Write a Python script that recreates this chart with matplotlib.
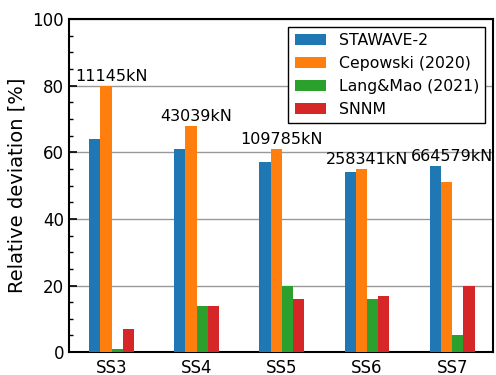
import numpy as np
import matplotlib.pyplot as plt
from matplotlib.ticker import MultipleLocator

cases = ['SS3', 'SS4', 'SS5', 'SS6', 'SS7']
loads = ['11145kN', '43039kN', '109785kN', '258341kN', '664579kN']
stawave = [64, 61, 57, 54, 56]
cepowski = [80, 68, 61, 55, 51]
langmao = [1, 14, 20, 16, 5]
snnm = [7, 14, 16, 17, 20]

series = [
    ('STAWAVE-2', stawave, 'tab:blue'),
    ('Cepowski (2020)', cepowski, 'tab:orange'),
    ('Lang&Mao (2021)', langmao, 'tab:green'),
    ('SNNM', snnm, 'tab:red'),
]

x = np.arange(len(cases))
w = 0.132

fig, ax = plt.subplots(figsize=(4.96, 3.75), dpi=100)
for i, (name, vals, c) in enumerate(series):
    ax.bar(x + (i - 1.5) * w, vals, w, label=name, color=c, zorder=3)

# load label above each group
for i in range(len(cases)):
    top = max(s[1][i] for s in series)
    ax.text(x[i], top + 0.5, loads[i], ha='center', va='bottom', fontsize=11.5, zorder=4)

ax.set_ylim(0, 100)
ax.set_xlim(-0.5, 4.48)
ax.set_xticks(x)
ax.set_xticklabels(cases)
ax.yaxis.set_major_locator(MultipleLocator(20))
ax.yaxis.set_minor_locator(MultipleLocator(5))
ax.tick_params(axis='both', which='major', direction='in', length=6, width=1.2, labelsize=12)
ax.tick_params(axis='y', which='minor', direction='in', length=3, width=1)
ax.tick_params(axis='x', which='major', length=0, pad=5)
ax.grid(axis='y', color='#999999', linewidth=1, zorder=0)
for sp in ax.spines.values():
    sp.set_linewidth(1.5)
ax.set_ylabel('Relative deviation [%]', fontsize=14)

leg = ax.legend(loc='upper right', fontsize=11.3, fancybox=False, edgecolor='black',
                framealpha=1, borderaxespad=0.5)
leg.get_frame().set_linewidth(1)

fig.subplots_adjust(left=0.139, right=0.994, top=0.949, bottom=0.061)
fig.savefig('out.png', dpi=100)
